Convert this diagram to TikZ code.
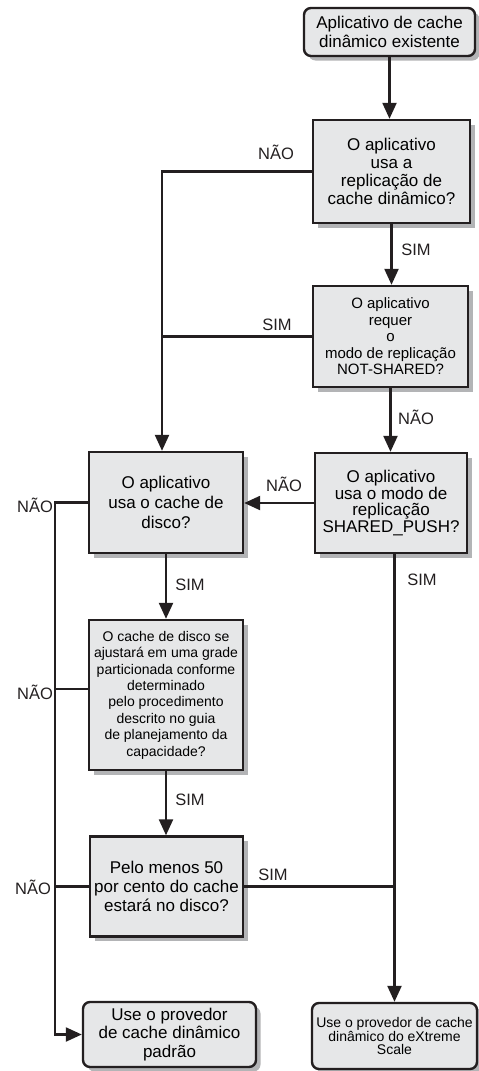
\documentclass[tikz,border=0pt]{standalone}
\usepackage{fontspec}
\setmainfont{Liberation Sans}
\usetikzlibrary{arrows.meta,shadows}
\definecolor{boxfill}{HTML}{E6E7E8}
\definecolor{ink}{HTML}{231F20}
\definecolor{shade}{HTML}{B3B4B6}
\tikzset{
  box/.style={draw=ink, line width=2.4pt, fill=boxfill, align=center, inner sep=1pt,
    drop shadow={shadow xshift=4.5pt, shadow yshift=-4.5pt, fill=shade, opacity=1}},
  endbox/.style={box, rounded corners=7pt},
  conn/.style={draw=ink, line width=2.3pt},
  arr/.style={conn, -{Triangle[length=16pt,width=14pt]}},
  lbl/.style={text=ink, inner sep=0pt, font=\fontsize{16.5}{18}\selectfont},
}
\begin{document}
\begin{tikzpicture}[x=1pt,y=-1pt]
\useasboundingbox (0,0) rectangle (479,1071);

% decision boxes and terminal boxes
\node[endbox, minimum width=171pt, minimum height=48pt, font=\fontsize{17}{19}\selectfont]
  (A) at (389.5,32) {Aplicativo de cache\\dinâmico existente};
\node[box, minimum width=157pt, minimum height=103pt, font=\fontsize{17}{18}\selectfont]
  (B) at (391.5,171.5) {O aplicativo\\usa a\\replicação de\\cache dinâmico?};
\node[box, minimum width=155pt, minimum height=101pt, font=\fontsize{15}{16.5}\selectfont]
  (C) at (390.5,336.5) {O aplicativo\\requer\\o\\modo de replicação\\NOT-SHARED?};
\node[box, minimum width=152pt, minimum height=100pt, font=\fontsize{17}{16.8}\selectfont]
  (D) at (391,503) {O aplicativo\\usa o modo de\\replicação\\SHARED\_PUSH?};
\node[box, minimum width=154pt, minimum height=101pt, font=\fontsize{17}{20}\selectfont]
  (E) at (166,502.5) {O aplicativo\\usa o cache de\\disco?};
\node[box, minimum width=154pt, minimum height=150pt, font=\fontsize{14}{16.4}\selectfont]
  (H) at (166,695) {O cache de disco se\\ajustará em uma grade\\particionada conforme\\determinado\\pelo procedimento\\descrito no guia\\de planejamento da\\capacidade?};
\node[box, minimum width=153pt, minimum height=100pt, font=\fontsize{17}{19}\selectfont]
  (I) at (166.5,886.5) {Pelo menos 50\\por cento do cache\\estará no disco?};
\node[endbox, minimum width=173pt, minimum height=65pt, font=\fontsize{17}{18.5}\selectfont]
  (F) at (169.5,1034.5) {Use o provedor\\de cache dinâmico\\padrão};
\node[endbox, minimum width=165pt, minimum height=66pt, font=\fontsize{14}{12.8}\selectfont]
  (G) at (394.5,1036) {Use o provedor de cache\\dinâmico do eXtreme\\Scale};

% x positions of the two collecting lines on the left
\coordinate (rail) at (55,0);
\coordinate (mid) at (162,0);

% main vertical chain on the right
\draw[arr] (A.south) -- (A.south |- B.north);
\draw[arr] (B.south) -- (B.south |- C.north);
\draw[arr] (C.south) -- (C.south |- D.north);
\draw[arr] (D.south -| G.north) -- (G.north);

% branches into the disk-cache question
\draw[arr] (B.west) -| (mid |- E.north);
\draw[conn] (C.west) -- (C.west -| mid);
\draw[arr] (D.west) -- (E.east |- D.west);

% disk-cache chain
\draw[arr] (E.south) -- (E.south |- H.north);
\draw[arr] (H.south) -- (H.south |- I.north);
\draw[conn] (I.east) -- (I.east -| G.north);

% left rail to the default provider
\draw[arr] (E.west) -| (rail |- F.west) -- (F.west);
\draw[conn] ([yshift=6pt]H.west) -- ([yshift=6pt]H.west -| rail);
\draw[conn] (I.west) -- (I.west -| rail);

% branch labels
\node[lbl] (n1) at (276,152) {NÃO};
\node[lbl] (s1) at (416,250) {SIM};
\node[lbl] (s2) at (277,325) {SIM};
\node[lbl] (n2) at (416,417) {NÃO};
\node[lbl] (n3) at (284,484) {NÃO};
\node[lbl] (n4) at (35,505) {NÃO};
\node[lbl] (s3) at (422,580) {SIM};
\node[lbl] (s4) at (190,585) {SIM};
\node[lbl] (n5) at (35,692) {NÃO};
\node[lbl] (s5) at (190,800) {SIM};
\node[lbl] (s6) at (273,875) {SIM};
\node[lbl] (n6) at (33,887) {NÃO};
\end{tikzpicture}
\end{document}
